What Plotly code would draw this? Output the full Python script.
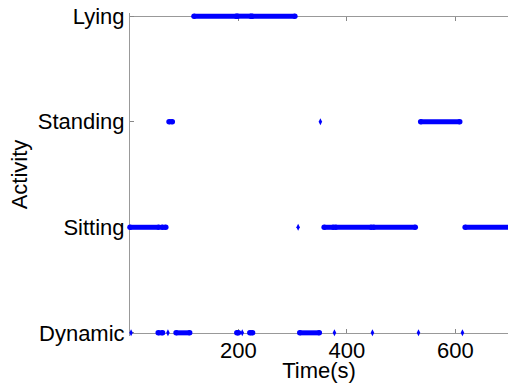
import plotly.graph_objects as go

# Activity categories (y levels)
activities = ["Dynamic", "Sitting", "Standing", "Lying"]

# Continuous runs of each activity: (start time, end time) in seconds
dynamic_runs = [(52, 60), (85, 110), (197, 200), (221, 226), (313, 349)]
sitting_runs = [(0, 53), (59, 66), (358, 375), (379, 445), (449, 526), (618, 705)]
standing_runs = [(72, 78), (536, 608)]
lying_runs = [(118, 196), (198, 223), (225, 304)]

# Isolated single samples: time in seconds
dynamic_points = [2, 70, 207, 377, 447, 532, 613]
sitting_points = [310]
standing_points = [351]
lying_points = []

x_ticks = [200, 400, 600]

runs = [dynamic_runs, sitting_runs, standing_runs, lying_runs]
points = [dynamic_points, sitting_points, standing_points, lying_points]

BLUE = "#0000FF"
GRAY = "#999999"
PAD = 0.03  # small y padding so that rows on the frame are not clipped
Y_LO, Y_HI = 0 - PAD, 3 + PAD

seg_x, seg_y = [], []
for level, rr in enumerate(runs):
    for (a, b) in rr:
        seg_x += [a, b, None]
        seg_y += [level, level, None]

pt_x, pt_y = [], []
for level, pp in enumerate(points):
    for t in pp:
        pt_x.append(t)
        pt_y.append(level)

fig = go.Figure()
fig.add_trace(go.Scatter(
    x=seg_x, y=seg_y, mode="lines+markers",
    line=dict(color=BLUE, width=5),
    marker=dict(color=BLUE, size=5.5, symbol="circle"),
    cliponaxis=False, showlegend=False, connectgaps=False,
))
fig.add_trace(go.Scatter(
    x=pt_x, y=pt_y, mode="markers",
    marker=dict(color=BLUE, size=5, symbol="diamond-tall"),
    cliponaxis=False, showlegend=False,
))

axis_font = dict(family="Liberation Sans, Arial, sans-serif", size=22, color="black")
frac0 = (0 - Y_LO) / (Y_HI - Y_LO)
frac3 = (3 - Y_LO) / (Y_HI - Y_LO)

fig.update_layout(
    width=508, height=383,
    margin=dict(l=130, r=0, t=13, b=47, pad=0),
    paper_bgcolor="white", plot_bgcolor="white",
    font=axis_font,
    xaxis=dict(
        range=[0, 697], tickvals=x_ticks, ticktext=[str(v) for v in x_ticks],
        ticks="inside", ticklen=4, tickcolor="#888888", tickwidth=1,
        showline=True, linecolor=GRAY, linewidth=1,
        anchor="free", position=frac0,
        showgrid=False, zeroline=False, layer="below traces",
        title=dict(text="Time(s)", font=axis_font, standoff=0),
        tickfont=axis_font, automargin=False, ticklabeloverflow="allow",
        ticklabelstandoff=-2,
    ),
    xaxis2=dict(
        range=[0, 697], tickvals=x_ticks, showticklabels=False,
        ticks="inside", ticklen=4, tickcolor="#888888", tickwidth=1,
        showline=True, linecolor=GRAY, linewidth=1,
        overlaying="x", anchor="free", position=frac3, side="top",
        showgrid=False, zeroline=False, layer="below traces",
        automargin=False,
    ),
    yaxis=dict(
        range=[Y_LO, Y_HI], tickvals=[0, 1, 2, 3], ticktext=activities,
        ticks="inside", ticklen=4, tickcolor="#888888", tickwidth=1,
        showline=True, linecolor=GRAY, linewidth=1,
        showgrid=False, zeroline=False, layer="below traces",
        title=dict(text="Activity", font=axis_font, standoff=4),
        tickfont=axis_font, automargin=False, ticklabeloverflow="allow",
    ),
)
# invisible trace so that xaxis2 (top frame line) is rendered
fig.add_trace(go.Scatter(x=[None], y=[None], xaxis="x2", yaxis="y",
                         showlegend=False, hoverinfo="skip"))

fig.write_html(
    "out.html",
    config={"displayModeBar": False},
    post_script="document.body.style.margin='0';document.body.style.overflow='hidden';",
)
